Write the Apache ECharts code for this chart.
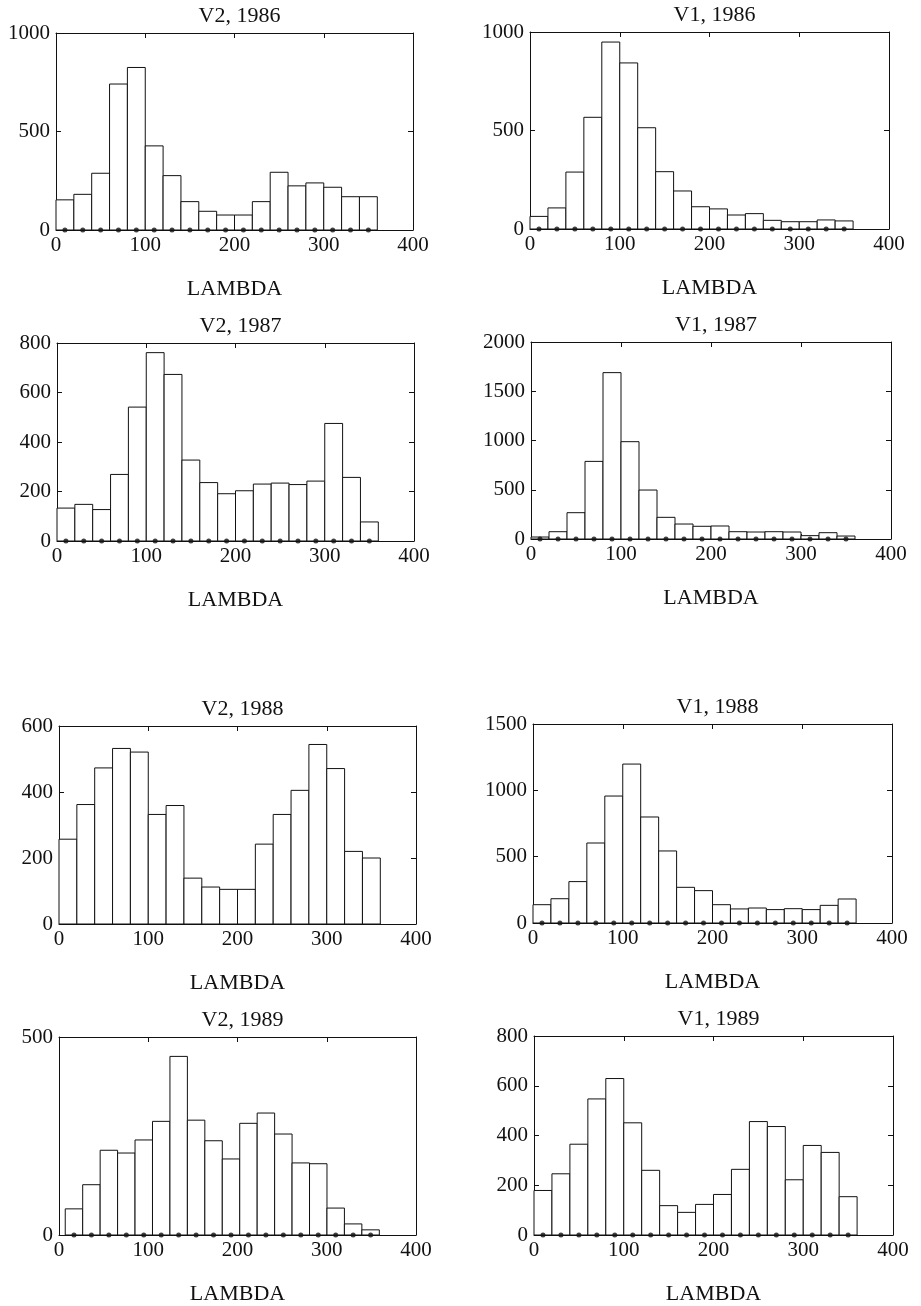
<!DOCTYPE html>
<html>
<head>
<meta charset="utf-8">
<title>LAMBDA histograms</title>
<script src="https://cdn.jsdelivr.net/npm/echarts@6/dist/echarts.min.js"></script>
<style>
  html, body { margin: 0; padding: 0; background: #fff; }
  #chart { width: 921px; height: 1306px; }
</style>
</head>
<body>
<div id="chart"></div>
<script>
// Panel titles, in reading order (left column V2, right column V1)
const panelTitles = ['V2, 1986', 'V1, 1986', 'V2, 1987', 'V1, 1987',
                     'V2, 1988', 'V1, 1988', 'V2, 1989', 'V1, 1989'];

// Counts per 20-degree LAMBDA bin (18 bins)
const countsV2_1986 = [153, 181, 288, 741, 825, 427, 276, 144, 95, 76, 76, 144, 293, 224, 239, 217, 169, 169];
const countsV1_1986 = [64, 107, 289, 567, 949, 843, 514, 291, 193, 113, 102, 71, 78, 44, 37, 37, 46, 41];
const countsV2_1987 = [133, 148, 127, 269, 541, 761, 673, 327, 236, 191, 203, 230, 234, 228, 242, 475, 257, 77];
const countsV1_1987 = [20, 74, 267, 788, 1689, 988, 497, 220, 152, 129, 132, 74, 71, 74, 71, 34, 64, 30];
const countsV2_1988 = [257, 362, 473, 532, 521, 332, 359, 139, 112, 105, 105, 242, 332, 405, 544, 471, 220, 200];
const countsV1_1988 = [138, 183, 312, 603, 957, 1198, 799, 543, 269, 244, 138, 106, 113, 101, 108, 101, 133, 181];
const countsV2_1989 = [66, 127, 214, 207, 240, 287, 451, 290, 238, 192, 282, 308, 255, 182, 180, 68, 28, 13];
const countsV1_1989 = [179, 246, 365, 547, 629, 451, 260, 118, 91, 123, 163, 264, 456, 436, 222, 360, 332, 154];

const panelCounts = [countsV2_1986, countsV1_1986, countsV2_1987, countsV1_1987,
                     countsV2_1988, countsV1_1988, countsV2_1989, countsV1_1989];

// Bin origin and width along LAMBDA for each panel
const binStart = [0, 0, 0, 0, 0, 0, 7, 0];
const binWidth = [20, 20, 20, 20, 20, 20, 19.55, 20];

// Y axis range and tick step per panel
const yMax  = [1000, 1000, 800, 2000, 600, 1500, 500, 800];
const yStep = [500, 500, 200, 500, 200, 500, 500, 200];

// Whether the bin-centre markers are drawn on the baseline
const showDots = [true, true, true, true, false, true, true, true];

// X axis
const xMin = 0, xMax = 400, xStep = 100;
const xName = 'LAMBDA';

// Plot rectangles [left, top, width, height] in pixels
const layout = [
  [56, 33, 357, 197], [530, 32, 359, 197],
  [57, 343, 357, 198], [531, 342, 360, 197],
  [59, 726, 357, 198], [533, 724, 359, 199],
  [59, 1037, 357, 198], [534, 1036, 359, 199]
];

const FONT = '"Liberation Serif", "DejaVu Serif", serif';
const INK = '#111';
const plain = v => String(v);

const chart = echarts.init(document.getElementById('chart'), null, { renderer: 'canvas' });

const grid = [], xAxis = [], yAxis = [], title = [], series = [];

panelTitles.forEach((name, k) => {
  const [l, t, w, h] = layout[k];
  grid.push({ left: l, top: t, width: w, height: h, containLabel: false });

  title.push({
    text: name,
    left: l + w / 2,
    top: t - 33,
    textAlign: 'center',
    textStyle: { fontFamily: FONT, fontSize: 22, fontWeight: 'normal', color: INK }
  });

  const lineStyle = { color: INK, width: 1 };
  // bottom (labelled) and top (mirrored) x axes
  xAxis.push({
    gridIndex: k, type: 'value', min: xMin, max: xMax, interval: xStep,
    position: 'bottom',
    name: xName, nameLocation: 'middle', nameGap: 48,
    nameTextStyle: { fontFamily: FONT, fontSize: 22, color: INK },
    axisLine: { show: true, onZero: false, lineStyle },
    axisTick: { show: true, inside: true, length: 5, lineStyle },
    axisLabel: { fontFamily: FONT, fontSize: 21, color: INK, margin: 5, formatter: plain },
    splitLine: { show: false }
  });
  xAxis.push({
    gridIndex: k, type: 'value', min: xMin, max: xMax, interval: xStep,
    position: 'top',
    axisLine: { show: true, onZero: false, lineStyle },
    axisTick: { show: true, inside: true, length: 5, lineStyle },
    axisLabel: { show: false },
    splitLine: { show: false }
  });
  // left (labelled) and right (mirrored) y axes
  yAxis.push({
    gridIndex: k, type: 'value', min: 0, max: yMax[k], interval: yStep[k],
    position: 'left',
    axisLine: { show: true, onZero: false, lineStyle },
    axisTick: { show: true, inside: true, length: 5, lineStyle },
    axisLabel: { fontFamily: FONT, fontSize: 21, color: INK, margin: 6, formatter: plain },
    splitLine: { show: false }
  });
  yAxis.push({
    gridIndex: k, type: 'value', min: 0, max: yMax[k], interval: yStep[k],
    position: 'right',
    axisLine: { show: true, onZero: false, lineStyle },
    axisTick: { show: true, inside: true, length: 5, lineStyle },
    axisLabel: { show: false },
    splitLine: { show: false }
  });

  const counts = panelCounts[k];
  const bins = counts.map((v, i) => [binStart[k] + i * binWidth[k], binStart[k] + (i + 1) * binWidth[k], v]);

  series.push({
    type: 'custom',
    xAxisIndex: 2 * k, yAxisIndex: 2 * k,
    data: bins,
    encode: { x: [0, 1], y: 2 },
    renderItem: (params, api) => {
      const p0 = api.coord([api.value(0), 0]);
      const p1 = api.coord([api.value(1), api.value(2)]);
      return {
        type: 'rect',
        shape: { x: p0[0], y: p1[1], width: p1[0] - p0[0], height: p0[1] - p1[1] },
        style: { fill: '#fff', stroke: INK, lineWidth: 1 }
      };
    },
    silent: true,
    z: 2
  });

  if (showDots[k]) {
    series.push({
      type: 'scatter',
      xAxisIndex: 2 * k, yAxisIndex: 2 * k,
      data: bins.map(b => [(b[0] + b[1]) / 2, 0]),
      symbol: 'circle', symbolSize: 5,
      itemStyle: { color: INK },
      clip: false, silent: true, z: 5
    });
  }
});

chart.setOption({
  backgroundColor: '#fff',
  animation: false,
  title, grid, xAxis, yAxis, series
});
</script>
</body>
</html>
